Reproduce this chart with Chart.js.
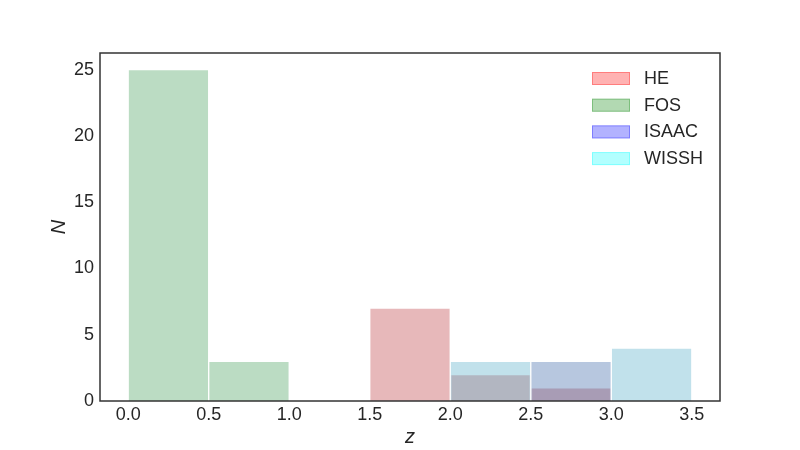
<!DOCTYPE html>
<html>
<head>
<meta charset="utf-8">
<script src="https://cdn.jsdelivr.net/npm/chart.js@4/dist/chart.umd.min.js"></script>
<style>
html,body{margin:0;padding:0;background:#fff;}
#wrap{width:800px;height:450px;}
</style>
</head>
<body>
<div id="wrap"><canvas id="c" width="800" height="450"></canvas></div>
<script>
// bin centres (bin width 0.5, edges 0.0 ... 3.5)
const binCenters = [0.25, 0.75, 1.25, 1.75, 2.25, 2.75, 3.25];
const seriesNames = ['HE', 'FOS', 'ISAAC', 'WISSH'];
const heCounts    = [0, 0, 0, 7, 2, 1, 0];
const fosCounts   = [25, 3, 0, 0, 0, 0, 0];
const isaacCounts = [0, 0, 0, 0, 0, 3, 0];
const wisshCounts = [0, 0, 0, 0, 3, 0, 4];
const xTicks = [0.0, 0.5, 1.0, 1.5, 2.0, 2.5, 3.0, 3.5];
const yTicks = [0, 5, 10, 15, 20, 25];

const barColors = ['rgba(196,78,82,0.4)', 'rgba(85,168,104,0.4)', 'rgba(76,114,176,0.4)', 'rgba(100,181,205,0.4)'];
const legendFill = ['rgba(255,0,0,0.3)', 'rgba(0,128,0,0.3)', 'rgba(0,0,255,0.3)', 'rgba(0,255,255,0.3)'];
const legendEdge = ['rgba(255,0,0,0.3)', 'rgba(0,128,0,0.3)', 'rgba(0,0,255,0.3)', 'rgba(0,255,255,0.3)'];

function toPoints(counts) {
  const pts = [];
  counts.forEach((v, i) => { if (v > 0) pts.push({x: binCenters[i], y: v}); });
  return pts;
}
const allCounts = [heCounts, fosCounts, isaacCounts, wisshCounts];

const datasets = allCounts.map((c, i) => ({
  label: seriesNames[i],
  data: toPoints(c),
  backgroundColor: barColors[i],
  borderColor: 'rgba(255,255,255,0.55)',
  borderWidth: 1,
  barPercentage: 1.0,
  categoryPercentage: 1.0,
  grouped: false,
  order: 4 - i
}));

const FONT = '"Liberation Sans", Arial, sans-serif';
const TXT = '#262626';

const framePlugin = {
  id: 'frameLegend',
  afterDraw(chart) {
    const {ctx, chartArea: a} = chart;
    ctx.save();
    ctx.strokeStyle = '#333333';
    ctx.lineWidth = 1.5;
    ctx.strokeRect(a.left, a.top, a.right - a.left, a.bottom - a.top);
    // legend
    const x0 = 592, w = 38, h = 13, y0 = 72, step = 26.7;
    ctx.font = '18px ' + FONT;
    ctx.textBaseline = 'middle';
    ctx.textAlign = 'left';
    seriesNames.forEach((n, i) => {
      const y = y0 + i * step;
      ctx.fillStyle = legendFill[i];
      ctx.fillRect(x0, y, w, h);
      ctx.strokeStyle = legendEdge[i];
      ctx.lineWidth = 1;
      ctx.strokeRect(x0 + 0.5, y + 0.5, w - 1, h - 1);
      ctx.fillStyle = TXT;
      ctx.fillText(n, 644, y + h / 2 + 0.5);
    });
    ctx.restore();
  }
};

new Chart(document.getElementById('c'), {
  type: 'bar',
  data: { datasets },
  options: {
    responsive: false,
    animation: false,
    devicePixelRatio: 1,
    layout: { padding: { left: 0, top: 53, right: 80, bottom: 0 } },
    plugins: { legend: { display: false }, tooltip: { enabled: false } },
    scales: {
      x: {
        type: 'linear',
        offset: false,
        min: -0.175,
        max: 3.675,
        grid: { display: false, drawTicks: false },
        border: { display: false },
        afterBuildTicks: s => { s.ticks = xTicks.map(v => ({value: v})); },
        afterFit: s => { s.height = 49; },
        ticks: {
          padding: 3,
          font: { family: FONT, size: 18 },
          color: TXT,
          maxRotation: 0,
          autoSkip: false,
          callback: v => Number(v).toFixed(1)
        },
        title: { display: true, text: 'z', font: { family: FONT, size: 20, style: 'italic' }, color: TXT, padding: { top: 0, bottom: 1 } }
      },
      y: {
        type: 'linear',
        min: 0,
        max: 26.25,
        grid: { display: false, drawTicks: false },
        border: { display: false },
        afterBuildTicks: s => { s.ticks = yTicks.map(v => ({value: v})); },
        afterFit: s => { s.width = 100; },
        ticks: {
          padding: 6,
          font: { family: FONT, size: 18 },
          color: TXT,
          autoSkip: false
        },
        title: { display: true, text: 'N', font: { family: FONT, size: 20, style: 'italic' }, color: TXT, padding: { top: 47, bottom: 0 } }
      }
    }
  },
  plugins: [framePlugin]
});
</script>
</body>
</html>
